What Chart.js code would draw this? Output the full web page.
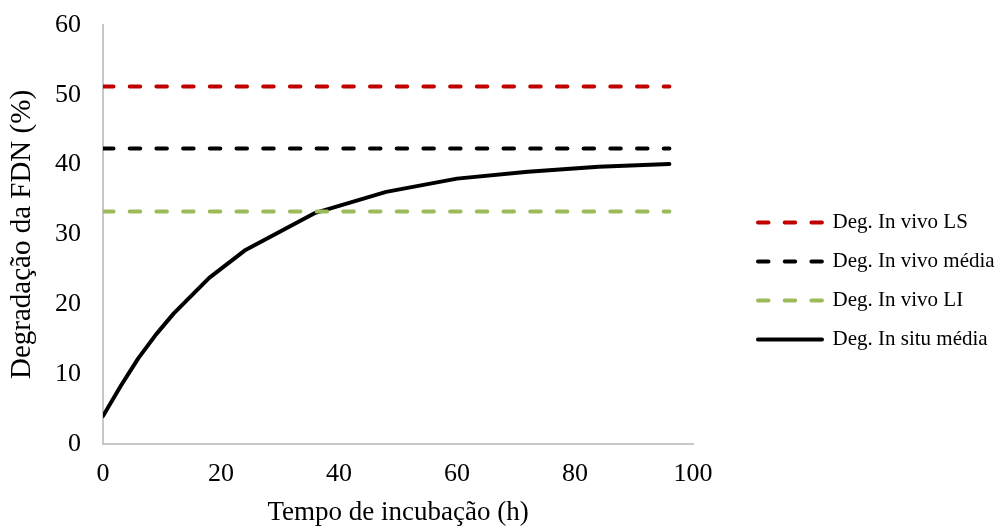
<!DOCTYPE html>
<html>
<head>
<meta charset="utf-8">
<script src="https://cdn.jsdelivr.net/npm/chart.js@4"></script>
<style>
  html, body { margin: 0; padding: 0; background: #ffffff; }
  #wrap { width: 1000px; height: 530px; }
</style>
</head>
<body>
<div id="wrap"><canvas id="c" width="1000" height="530"></canvas></div>
<script>
// Incubation times (h)
const hours = [0, 3, 6, 9, 12, 18, 24, 36, 48, 60, 72, 84, 96];
// In situ NDF degradation, mean (%)
const inSituMean = [4.0, 8.3, 12.3, 15.7, 18.7, 23.8, 27.7, 33.1, 36.1, 38.0, 39.0, 39.7, 40.1];
// In vivo NDF degradation: upper limit, mean, lower limit (%)
const inVivoLS = 51.2;
const inVivoMean = 42.3;
const inVivoLI = 33.3;
// Axis ticks
const xTicks = [0, 20, 40, 60, 80, 100];
const yTicks = [0, 10, 20, 30, 40, 50, 60];

const seriesLabels = ['Deg. In vivo LS', 'Deg. In vivo média', 'Deg. In vivo LI', 'Deg. In situ média'];

const flat = v => hours.map(h => ({ x: h, y: v }));
const DASH = [10.5, 16.2];
const dashed = { borderWidth: 4, borderDash: DASH, borderCapStyle: 'round', pointRadius: 0, fill: false };

const FONT = "'Liberation Serif', 'Times New Roman', serif";

// Layout of the legend column at the right of the plot
const LEGEND_SPACE = 307;   // width reserved right of the plot area
const LEGEND_SHIFT_X = 47;  // gap between plot area and legend column
const LEGEND_SHIFT_Y = 16;

const legendPlacement = {
  id: 'legendPlacement',
  beforeLayout(chart) {
    const legend = chart.legend;
    if (legend && !legend._placed) {
      const fit = legend.fit;
      legend.fit = function () {
        fit.call(this);
        if (!this.isHorizontal()) this.width = LEGEND_SPACE;
      };
      legend._placed = true;
    }
  },
  afterLayout(chart) {
    const legend = chart.legend;
    legend.left += LEGEND_SHIFT_X;
    legend.top += LEGEND_SHIFT_Y;
    legend.bottom += LEGEND_SHIFT_Y;
  }
};

const data = {
  datasets: [
    Object.assign({ label: seriesLabels[0], data: flat(inVivoLS), borderColor: '#c00000' }, dashed),
    Object.assign({ label: seriesLabels[1], data: flat(inVivoMean), borderColor: '#000000' }, dashed),
    Object.assign({ label: seriesLabels[2], data: flat(inVivoLI), borderColor: '#9bbb59' }, dashed),
    {
      label: seriesLabels[3],
      data: hours.map((h, i) => ({ x: h, y: inSituMean[i] })),
      borderColor: '#000000', borderWidth: 4, pointRadius: 0, tension: 0,
      borderCapStyle: 'round', borderJoinStyle: 'round', fill: false
    }
  ]
};

new Chart(document.getElementById('c'), {
  type: 'line',
  data,
  plugins: [legendPlacement],
  options: {
    responsive: false,
    animation: false,
    devicePixelRatio: 1,
    layout: { padding: { left: 0, right: 0, top: 0, bottom: 0 } },
    plugins: {
      tooltip: { enabled: false },
      legend: {
        position: 'right',
        align: 'center',
        labels: {
          usePointStyle: true,
          pointStyle: 'line',
          pointStyleWidth: 64,
          padding: 18,
          color: '#000000',
          font: { family: FONT, size: 21 },
          generateLabels(chart) {
            const items = Chart.defaults.plugins.legend.labels.generateLabels(chart);
            items.forEach(item => {
              const ds = chart.data.datasets[item.datasetIndex];
              item.lineDash = ds.borderDash || [];
              item.lineCap = 'round';
              item.lineWidth = 4;
              item.strokeStyle = ds.borderColor;
            });
            return items;
          }
        }
      }
    },
    scales: {
      x: {
        type: 'linear',
        min: 0, max: 100,
        afterBuildTicks: axis => { axis.ticks = xTicks.map(v => ({ value: v })); },
        afterFit: axis => { axis.height = 86; },
        grid: { display: false, drawTicks: false },
        border: { display: true, color: '#c8c8c8', width: 2 },
        ticks: { color: '#000000', padding: 15, font: { family: FONT, size: 26 } },
        title: { display: true, text: 'Tempo de incubação (h)', color: '#000000', padding: { top: 0, bottom: 1 }, font: { family: FONT, size: 27 } }
      },
      y: {
        type: 'linear',
        min: 0, max: 60,
        afterBuildTicks: axis => { axis.ticks = yTicks.map(v => ({ value: v })); },
        afterFit: axis => { axis.width = 103; axis.paddingTop = 25; axis.paddingBottom = 0; },
        grid: { display: false, drawTicks: false },
        border: { display: true, color: '#c8c8c8', width: 2 },
        ticks: { color: '#000000', padding: 22, font: { family: FONT, size: 26 } },
        title: { display: true, text: 'Degradação da FDN (%)', color: '#000000', padding: { top: 4.6, bottom: 0 }, font: { family: FONT, size: 29 } }
      }
    }
  }
});
</script>
</body>
</html>
